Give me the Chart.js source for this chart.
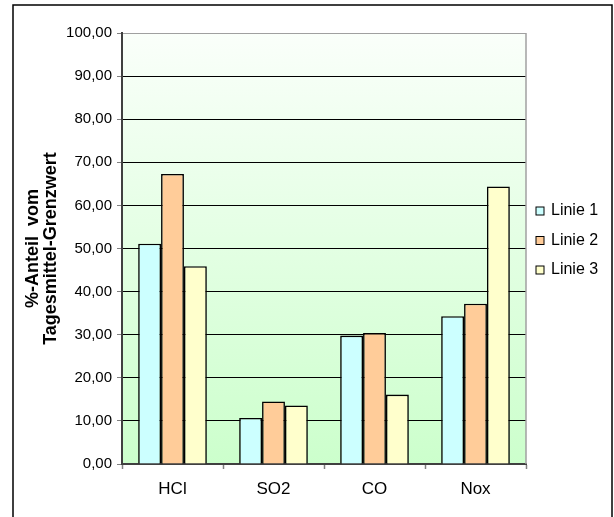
<!DOCTYPE html>
<html>
<head>
<meta charset="utf-8">
<script src="https://cdn.jsdelivr.net/npm/chart.js@4"></script>
<style>
  html, body { margin: 0; padding: 0; background: #fff; }
  #wrap { width: 614px; height: 517px; position: relative; }
</style>
</head>
<body>
<div id="wrap"><canvas id="grafico"></canvas></div>
<script>
const kategorien = ['HCl', 'SO2', 'CO', 'Nox']
const linie1 = [51.1, 10.7, 29.8, 34.3]
const linie2 = [67.3, 14.5, 30.4, 37.2]
const linie3 = [45.9, 13.6, 16.1, 64.4]
const serienNamen = ['Linie 1', 'Linie 2', 'Linie 3']
const farben = ['#CCFFFF', '#FFCC99', '#FFFFCC']

const schrift = 'Liberation Sans, Arial, sans-serif'

// Hintergrund, Rahmen und Legende
const deko = {
  id: 'deko',
  beforeDraw(chart) {
    const { ctx, chartArea: a } = chart
    ctx.save()
    const g = ctx.createLinearGradient(0, a.top, 0, a.bottom)
    g.addColorStop(0, '#FAFFFA')
    g.addColorStop(1, '#CCFFCC')
    ctx.fillStyle = g
    ctx.fillRect(a.left, a.top, a.right - a.left, a.bottom - a.top)
    ctx.restore()
  },
  afterDraw(chart) {
    const { ctx, chartArea: a } = chart
    ctx.save()
    // rechte Kante der Zeichenfläche
    ctx.strokeStyle = '#A0A0A0'
    ctx.lineWidth = 1.5
    ctx.beginPath()
    ctx.moveTo(a.right, a.top)
    ctx.lineTo(a.right, a.bottom)
    ctx.stroke()
    // äußerer Rahmen
    ctx.strokeStyle = '#000'
    ctx.lineWidth = 1.5
    ctx.strokeRect(13, 5, 599, 600)
    // Legende
    ctx.font = '16px ' + schrift
    ctx.textBaseline = 'middle'
    ctx.textAlign = 'left'
    chart.data.datasets.forEach((ds, i) => {
      const y = 211 + i * 29.5
      ctx.fillStyle = ds.backgroundColor
      ctx.fillRect(536, y - 4, 8, 8)
      ctx.strokeStyle = '#000'
      ctx.lineWidth = 1
      ctx.strokeRect(536, y - 4, 8, 8)
      ctx.fillStyle = '#000'
      ctx.fillText(ds.label, 551, y)
    })
    ctx.restore()
  }
}

const reihen = [linie1, linie2, linie3]

new Chart(document.getElementById('grafico'), {
  type: 'bar',
  data: {
    labels: kategorien,
    datasets: reihen.map((werte, i) => ({
      label: serienNamen[i],
      data: werte,
      backgroundColor: farben[i],
      borderColor: '#000',
      borderWidth: 1.6,
      categoryPercentage: 0.68,
      barPercentage: 1
    }))
  },
  options: {
    responsive: true,
    maintainAspectRatio: false,
    animation: false,
    layout: { padding: { left: 0, top: 33, right: 88, bottom: 0 } },
    plugins: {
      legend: { display: false },
      tooltip: { enabled: false }
    },
    scales: {
      x: {
        afterFit: (s) => { s.height = 53 },
        grid: {
          drawOnChartArea: false,
          drawTicks: true,
          tickLength: 5,
          tickColor: '#808080',
          tickWidth: 1.5
        },
        border: { color: '#404040', width: 2 },
        ticks: {
          color: '#000',
          padding: 10,
          font: { family: schrift, size: 17 }
        }
      },
      y: {
        min: 0,
        max: 100,
        afterFit: (s) => { s.width = 122 },
        ticks: {
          stepSize: 10,
          color: '#000',
          padding: 5,
          font: { family: schrift, size: 15 },
          callback: (v) => v.toFixed(2).replace('.', ',')
        },
        grid: {
          color: (c) => (c.tick && c.tick.value === 100 ? '#A0A0A0' : '#000'),
          lineWidth: 1,
          tickLength: 5,
          tickColor: '#808080',
          tickWidth: 1
        },
        border: { color: '#404040', width: 2 },
        title: {
          display: true,
          text: ['%-Anteil  vom', 'Tagesmittel-Grenzwert'],
          color: '#000',
          padding: { top: 24, bottom: 0 },
          font: { family: schrift, size: 18, weight: 'bold', lineHeight: 1.0 }
        }
      }
    }
  },
  plugins: [deko]
})
</script>
</body>
</html>
